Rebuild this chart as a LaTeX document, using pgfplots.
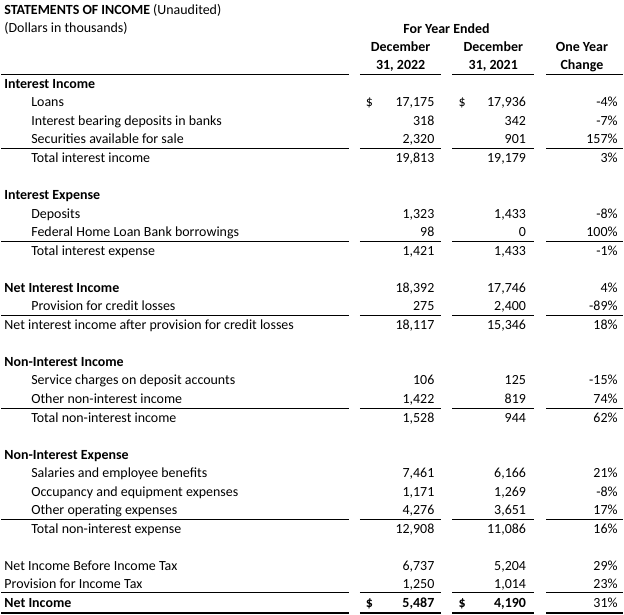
\documentclass[border=0pt]{standalone}
\usepackage{pgfplots}
\pgfplotsset{compat=1.18}
\usepackage{pgfplotstable}
\usepackage{fontspec}
\setmainfont{Carlito}
\newcommand{\tf}{\fontsize{14bp}{16bp}\selectfont}
\newcommand{\lab}[3]{\node[anchor=base west, inner sep=0pt, font=\tf] at (axis cs:#2,{84+18.62*#1+4.6}) {#3};}
\newcommand{\hdr}[3]{\node[anchor=base, inner sep=0pt, font=\tf] at (axis cs:#1,{#2+4.6}) {\textbf{#3}};}
\newcommand{\hrules}[2]{%
  \draw[line width=#2] (axis cs:0,#1) -- (axis cs:349,#1);
  \draw[line width=#2] (axis cs:360,#1) -- (axis cs:442,#1);
  \draw[line width=#2] (axis cs:453,#1) -- (axis cs:535,#1);
  \draw[line width=#2] (axis cs:547,#1) -- (axis cs:624,#1);}

\pgfplotstableread{
r v
1 17175
2 318
3 2320
4 19813
7 1323
8 98
9 1421
11 18392
12 275
13 18117
16 106
17 1422
18 1528
21 7461
22 1171
23 4276
24 12908
26 6737
27 1250
}\cya
\pgfplotstableread{
r v
28 5487
}\cyab
\pgfplotstableread{
r v
1 17936
2 342
3 901
4 19179
7 1433
8 0
9 1433
11 17746
12 2400
13 15346
16 125
17 819
18 944
21 6166
22 1269
23 3651
24 11086
26 5204
27 1014
}\cyb
\pgfplotstableread{
r v
28 4190
}\cybb
\pgfplotstableread{
r v
1 -4
2 -7
3 157
4 3
7 -8
8 100
9 -1
11 4
12 -89
13 18
16 -15
17 74
18 62
21 21
22 -8
23 17
24 16
26 29
27 23
28 31
}\chg

\begin{document}
\begin{tikzpicture}
\begin{axis}[
  scale only axis, width=624bp, height=617bp,
  xmin=0, xmax=624, ymin=0, ymax=617, y dir=reverse,
  hide axis, clip=false,
  /pgf/number format/assume math mode=true,
  nodes near coords style={anchor=base east, inner sep=0pt, font=\tf},
]
\fill[white] (axis cs:0,0) rectangle (axis cs:624,617);

% title
\node[anchor=base west, inner sep=0pt, font=\tf] at (axis cs:3,{10+4.6}) {\textbf{STATEMENTS OF INCOME} (Unaudited)};
\node[anchor=base west, inner sep=0pt, font=\tf] at (axis cs:3,{28+4.6}) {(Dollars in thousands)};
% headers
\hdr{447}{29}{For Year Ended}
\hdr{401}{47}{December}
\hdr{401}{65.4}{31, 2022}
\hdr{494}{47}{December}
\hdr{494}{65.4}{31, 2021}
\hdr{583}{47}{One Year}
\hdr{583}{65.4}{Change}

% row labels
\lab{0}{3}{\textbf{Interest Income}}
\lab{1}{30}{Loans}
\lab{2}{30}{Interest bearing deposits in banks}
\lab{3}{30}{Securities available for sale}
\lab{4}{30}{Total interest income}
\lab{6}{3}{\textbf{Interest Expense}}
\lab{7}{30}{Deposits}
\lab{8}{30}{Federal Home Loan Bank borrowings}
\lab{9}{30}{Total interest expense}
\lab{11}{3}{\textbf{Net Interest Income}}
\lab{12}{30}{Provision for credit losses}
\lab{13}{3}{Net interest income after provision for credit losses}
\lab{15}{3}{\textbf{Non-Interest Income}}
\lab{16}{30}{Service charges on deposit accounts}
\lab{17}{30}{Other non-interest income}
\lab{18}{30}{Total non-interest income}
\lab{20}{3}{\textbf{Non-Interest Expense}}
\lab{21}{30}{Salaries and employee benefits}
\lab{22}{30}{Occupancy and equipment expenses}
\lab{23}{30}{Other operating expenses}
\lab{24}{30}{Total non-interest expense}
\lab{26}{3}{Net Income Before Income Tax}
\lab{27}{3}{Provision for Income Tax}
\lab{28}{3}{\textbf{Net Income}}

% dollar signs
\lab{1}{366}{\$}
\lab{1}{459}{\$}
\lab{28}{366}{\textbf{\$}}
\lab{28}{459}{\textbf{\$}}

% values
\addplot[draw=none, mark=none, point meta=explicit,
  nodes near coords={\pgfmathprintnumber[fixed,precision=0,1000 sep={,}]{\pgfplotspointmeta}}]
  table[x expr=435, y expr={84+18.62*\thisrow{r}+4.6}, meta=v] {\cya};
\addplot[draw=none, mark=none, point meta=explicit,
  nodes near coords={\textbf{\pgfmathprintnumber[fixed,precision=0,1000 sep={,}]{\pgfplotspointmeta}}}]
  table[x expr=435, y expr={84+18.62*\thisrow{r}+4.6}, meta=v] {\cyab};
\addplot[draw=none, mark=none, point meta=explicit,
  nodes near coords={\pgfmathprintnumber[fixed,precision=0,1000 sep={,}]{\pgfplotspointmeta}}]
  table[x expr=527, y expr={84+18.62*\thisrow{r}+4.6}, meta=v] {\cyb};
\addplot[draw=none, mark=none, point meta=explicit,
  nodes near coords={\textbf{\pgfmathprintnumber[fixed,precision=0,1000 sep={,}]{\pgfplotspointmeta}}}]
  table[x expr=527, y expr={84+18.62*\thisrow{r}+4.6}, meta=v] {\cybb};
\addplot[draw=none, mark=none, point meta=explicit,
  nodes near coords={\pgfmathprintnumber[fixed,precision=0]{\pgfplotspointmeta}\%}]
  table[x expr=619, y expr={84+18.62*\thisrow{r}+4.6}, meta=v] {\chg};

% rules
\hrules{74.4}{1bp}
\hrules{149.3}{1bp}
\hrules{242.4}{1bp}
\hrules{317.1}{1bp}
\hrules{410.2}{1bp}
\hrules{521.9}{1bp}
\hrules{595}{1bp}
\hrules{615.5}{2.5bp}
\end{axis}
\end{tikzpicture}
\end{document}
